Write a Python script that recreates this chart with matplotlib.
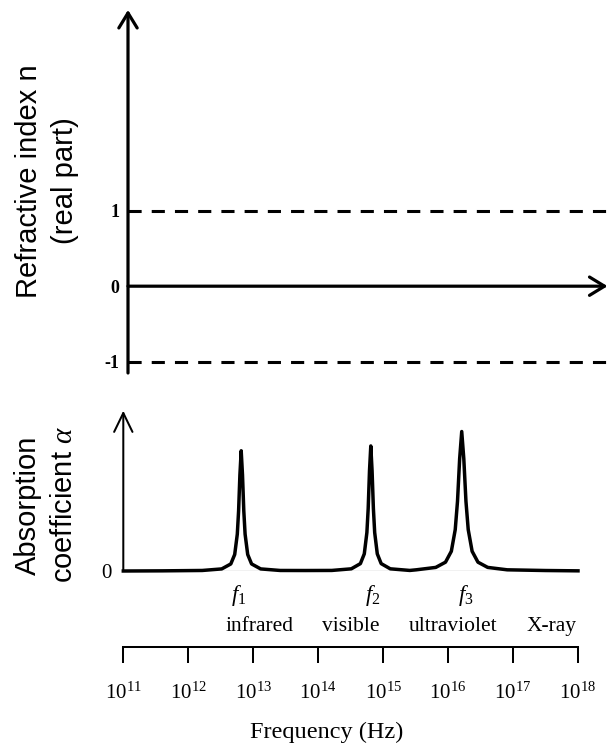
import numpy as np
import matplotlib
matplotlib.use('Agg')
import matplotlib.pyplot as plt
from matplotlib.ticker import NullLocator

W, H = 609, 747

plt.rcParams['font.family'] = 'Liberation Serif'
plt.rcParams['mathtext.fontset'] = 'custom'
plt.rcParams['mathtext.rm'] = 'Liberation Serif'
plt.rcParams['mathtext.it'] = 'Liberation Serif:italic'
plt.rcParams['mathtext.bf'] = 'Liberation Serif:bold'

# refractive index panel
n_levels = [1, 0, -1]
n_level_labels = ['1', '0', '-1']
n_dashed = [1, -1]

# absorption curve (log10 of frequency, relative height)
alpha_logf = [11.0, 11.6, 12.215, 12.515, 12.655, 12.715, 12.755, 12.775,
              12.795, 12.815, 12.835, 12.855, 12.875, 12.915, 12.975, 13.115,
              13.415, 13.8, 14.21, 14.51, 14.65, 14.71, 14.75, 14.77, 14.79,
              14.81, 14.83, 14.85, 14.87, 14.91, 14.97, 15.11, 15.41, 15.51,
              15.81, 15.96, 16.05, 16.11, 16.145, 16.178, 16.21, 16.242,
              16.275, 16.31, 16.37, 16.46, 16.61, 16.91, 17.5, 18.0]
alpha_vals = [0.0, 0.001, 0.0033, 0.013, 0.044, 0.103, 0.23, 0.375,
              0.60, 0.75, 0.60, 0.375, 0.23, 0.103, 0.044, 0.013,
              0.0033, 0.003, 0.0035, 0.0136, 0.046, 0.107, 0.24, 0.39, 0.624,
              0.78, 0.624, 0.39, 0.24, 0.107, 0.046, 0.0136, 0.0035, 0.0074,
              0.0224, 0.055, 0.123, 0.258, 0.435, 0.70, 0.87, 0.70,
              0.435, 0.258, 0.123, 0.055, 0.0224, 0.0074, 0.003, 0.001]

peak_names = [r'$f_1$', r'$f_2$', r'$f_3$']
peak_logf = [12.78, 14.84, 16.27]

band_names = ['infrared', 'visible', 'ultraviolet', 'X-ray']
band_logf = [13.09, 14.5, 16.07, 17.59]

decades = [11, 12, 13, 14, 15, 16, 17, 18]
decade_labels = [r'$10^{11}$', r'$10^{12}$', r'$10^{13}$', r'$10^{14}$',
                 r'$10^{15}$', r'$10^{16}$', r'$10^{17}$', r'$10^{18}$']


def box(x0, y0, x1, y1):
    # pixel box (from top-left) -> figure fraction rect
    return [x0 / W, 1 - y1 / H, (x1 - x0) / W, (y1 - y0) / H]


def bare(ax):
    for s in ax.spines.values():
        s.set_visible(False)


fig = plt.figure(figsize=(W / 100, H / 100), dpi=100)

# ---- top: refractive index ----
ax1 = fig.add_axes(box(128, 9.9, 609, 373))
bare(ax1)
ax1.set_xlim(0, 1)
ax1.set_ylim(-1.15, 3.66)
ax1.set_xticks([])
ax1.set_yticks(n_levels, labels=n_level_labels, fontsize=13, fontweight='bold')
ax1.tick_params(axis='y', length=0, pad=6)
for v in n_dashed:
    ax1.axhline(v, color='black', lw=2.2, dashes=(4.3, 3.3))
head = '->,head_length=0.54,head_width=0.33'
ax1.annotate('', xy=(0, 1), xytext=(0, 0), xycoords='axes fraction',
             arrowprops=dict(arrowstyle=head, lw=2.3, color='black',
                             shrinkA=0, shrinkB=0, mutation_scale=20))
ax1.annotate('', xy=(0.997, 0), xytext=(0, 0), xycoords=ax1.get_yaxis_transform(),
             arrowprops=dict(arrowstyle=head, lw=2.3, color='black',
                             shrinkA=0, shrinkB=0, mutation_scale=20))

# ---- bottom: absorption ----
ax2 = fig.add_axes(box(123.3, 410.7, 578, 571))
bare(ax2)
ax2.set_xscale('log')
ax2.set_xlim(1e11, 1e18)
ax2.set_ylim(0, 1)
ax2.xaxis.set_major_locator(NullLocator())
ax2.xaxis.set_minor_locator(NullLocator())
ax2.set_yticks([0], labels=['0'], fontsize=15)
ax2.tick_params(axis='y', length=0, pad=8.5)
ax2.axhline(0, color='black', lw=0.8)
ax2.plot(10.0 ** np.array(alpha_logf), alpha_vals, color='black', lw=2.5,
         solid_joinstyle='round', clip_on=False)
ax2.annotate('', xy=(0, 1), xytext=(0, 0), xycoords='axes fraction',
             arrowprops=dict(arrowstyle='->,head_length=0.68,head_width=0.33',
                             lw=1.45, color='black', shrinkA=0, shrinkB=0,
                             mutation_scale=20))
for name, lf in zip(peak_names, peak_logf):
    ax2.text(10.0 ** lf, -0.15, name, transform=ax2.get_xaxis_transform(),
             ha='center', va='center', fontsize=16.5)
for name, lf in zip(band_names, band_logf):
    ax2.text(10.0 ** lf, -0.349, name, transform=ax2.get_xaxis_transform(),
             ha='center', va='center', fontsize=15.5)

# ---- frequency scale ----
ax3 = fig.add_axes(box(123.3, 646.7, 578, 663))
bare(ax3)
ax3.spines['top'].set_visible(True)
ax3.spines['top'].set_linewidth(1.45)
ax3.set_xscale('log')
ax3.set_xlim(1e11, 1e18)
ax3.set_ylim(0, 1)
ax3.set_yticks([])
ax3.set_xticks([10.0 ** d for d in decades], labels=decade_labels, fontsize=15)
ax3.xaxis.set_minor_locator(NullLocator())
ax3.tick_params(axis='x', top=True, bottom=False, direction='in', length=11.7,
                width=1.45, labelbottom=True, labeltop=False, pad=14)

fig.text(327 / W, 1 - 732 / H, 'Frequency (Hz)', ha='center', va='center',
         fontsize=17.5)

fig.text(47 / W, 1 - 181 / H, 'Refractive index n\n(real part)', rotation=90,
         ha='center', va='center', family='Liberation Sans', fontsize=21,
         linespacing=1.35)
fig.text(46 / W, 1 - 505 / H, 'Absorption\ncoefficient $\\alpha$', rotation=90,
         ha='center', va='center', family='Liberation Sans', fontsize=21,
         linespacing=1.35)

fig.savefig('out.png', dpi=100)
